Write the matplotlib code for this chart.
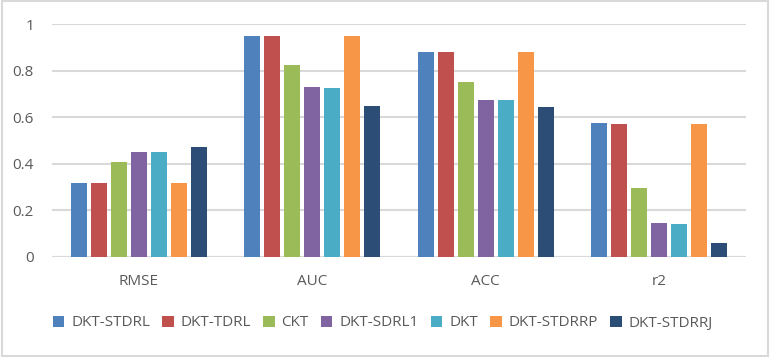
import numpy as np
import matplotlib.pyplot as plt
from matplotlib.patches import Rectangle

# metrics on the x axis, one group of bars per metric
metrics = ["RMSE", "AUC", "ACC", "r2"]
models = ["DKT-STDRL", "DKT-TDRL", "CKT", "DKT-SDRL1", "DKT", "DKT-STDRRP", "DKT-STDRRJ"]

# values, one list per model (RMSE, AUC, ACC, r2)
dkt_stdrl = [0.317, 0.948, 0.880, 0.575]
dkt_tdrl = [0.317, 0.948, 0.880, 0.570]
ckt = [0.407, 0.824, 0.751, 0.295]
dkt_sdrl1 = [0.450, 0.729, 0.673, 0.145]
dkt = [0.450, 0.725, 0.673, 0.140]
dkt_stdrrp = [0.317, 0.948, 0.880, 0.570]
dkt_stdrrj = [0.471, 0.648, 0.643, 0.059]

series = [dkt_stdrl, dkt_tdrl, ckt, dkt_sdrl1, dkt, dkt_stdrrp, dkt_stdrrj]
colors = ["#4F81BD", "#C0504D", "#9BBB59", "#8064A2", "#4BACC6", "#F79646", "#2C4D75"]

plt.rcParams['font.family'] = ['Open Sans', 'DejaVu Sans']
text_color = "#595959"

fig = plt.figure(figsize=(7.7, 3.57), dpi=100)
ax = fig.add_axes([52 / 770, 1 - 257 / 357, 694 / 770, 233 / 357])

x = np.arange(len(metrics))
pitch = 0.115
width = 0.092
for i, (vals, col, name) in enumerate(zip(series, colors, models)):
    offs = (i - 3) * pitch
    ax.bar(x + offs, vals, width=width, color=col, label=name, zorder=3)

ax.set_xlim(-0.5, len(metrics) - 0.5)
ax.set_ylim(0, 1)
ax.set_yticks(np.arange(0, 1.01, 0.2))
ax.set_yticklabels(["0", "0.2", "0.4", "0.6", "0.8", "1"])
ax.set_xticks(x)
ax.set_xticklabels(metrics)
ax.grid(axis='y', color="#D9D9D9", linewidth=1.5, zorder=0)
ax.tick_params(axis='both', length=0, colors=text_color, labelsize=11)
ax.tick_params(axis='x', pad=12)
ax.tick_params(axis='y', pad=13)
for s in ax.spines.values():
    s.set_visible(False)
ax.axhline(0, color="#D9D9D9", linewidth=1.5, zorder=2)

leg = fig.legend(loc='center', bbox_to_anchor=(0.497, 1 - 323 / 357), ncol=7, frameon=False,
                 fontsize=11, handlelength=0.75, handleheight=0.75, handletextpad=0.45,
                 columnspacing=0.8, labelcolor=text_color)

# light frame around the whole picture
fig.patches.append(Rectangle((0.002, 0.003), 0.996, 0.994, transform=fig.transFigure,
                             fill=False, edgecolor="#D9D9D9", linewidth=1.5))

fig.savefig("out.png", dpi=100)
